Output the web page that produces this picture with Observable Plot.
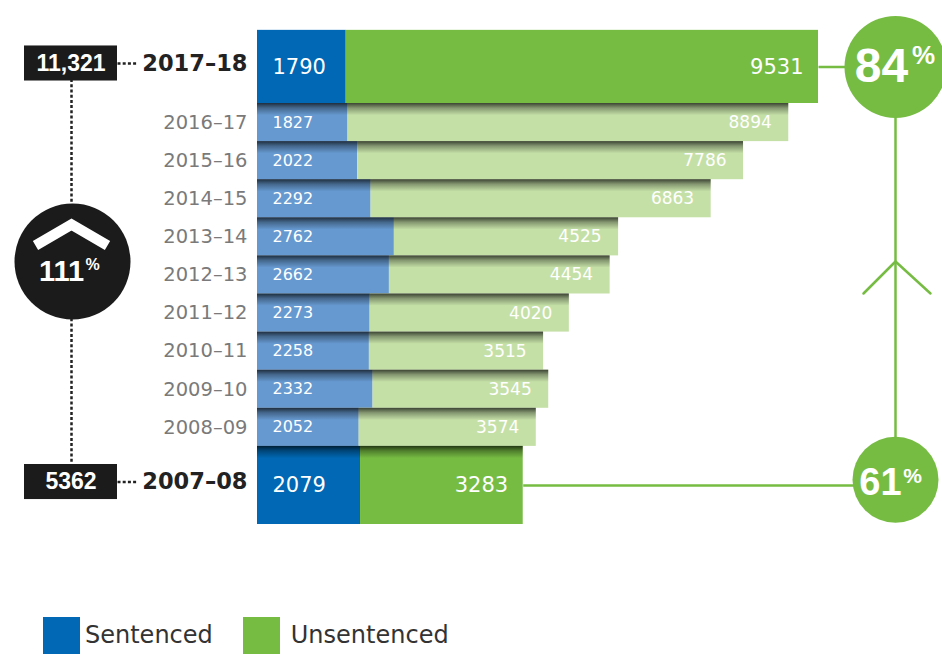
<!DOCTYPE html>
<html>
<head>
<meta charset="utf-8">
<script src="https://cdn.jsdelivr.net/npm/d3@7"></script>
<script src="https://cdn.jsdelivr.net/npm/@observablehq/plot@0.6"></script>
<style>
  body { margin: 0; background: #fff; font-family: "DejaVu Sans", sans-serif; }
  #chart svg { display: block; }
  #legend { display: flex; align-items: center; padding: 17px 0 0 43px; }
  #legend .sw { width: 37px; height: 37px; }
  #legend .lab { font-size: 24px; color: #333; margin-right: 30px; line-height: 37px; }
</style>
</head>
<body>
<div id="chart"></div>
<div id="legend"></div>
<script>
// ---- data ----
const years = ["2017–18","2016–17","2015–16","2014–15","2013–14","2012–13","2011–12","2010–11","2009–10","2008–09","2007–08"];
const sentenced = [1790, 1827, 2022, 2292, 2762, 2662, 2273, 2258, 2332, 2052, 2079];
const unsentenced = [9531, 8894, 7786, 6863, 4525, 4454, 4020, 3515, 3545, 3574, 3283];
const totalLabels = ["11,321", "5362"];
const changeLabels = ["111", "84", "61"];
const seriesNames = ["Sentenced", "Unsentenced"];

// ---- styles ----
const C = {
  blue: "#0068b4", blueLight: "#6699d0",
  green: "#76bc43", greenLight: "#c5e0a7",
  dark: "#1b1b1b", gray: "#7a7a7a", label: "#222"
};

// ---- layout helpers ----
const W = 942, H = 600;
const xPerUnit = 561 / 11321;   // px per value unit
const X0 = 257;                 // pixel of value 0
const UNIT = 38.1;              // px per row unit
const Y0 = 103;                 // pixel of row unit 0
const ax = p => (p - X0) / xPerUnit;
const ay = p => (p - Y0) / UNIT;
const TOP_H = 1.92, BOT_H = 2.05;

const lastIdx = years.length - 1;
const rows = years.map((year, i) => {
  const y1 = i === 0 ? -TOP_H : i - 1;
  const y2 = i === 0 ? 0 : i === lastIdx ? i - 1 + BOT_H : i;
  const s = sentenced[i], u = unsentenced[i];
  return { year, s, u, total: s + u, y1, y2, ym: (y1 + y2) / 2, key: i === 0 || i === lastIdx };
});
const topRow = rows[0], botRow = rows[lastIdx];
const small = rows.filter(d => !d.key);
const keys = rows.filter(d => d.key);

const defs = () => {
  const ns = "http://www.w3.org/2000/svg";
  const d = document.createElementNS(ns, "defs");
  d.innerHTML = `<linearGradient id="shade" x1="0" y1="0" x2="0" y2="1">
      <stop offset="0" stop-color="#000" stop-opacity="0.7"/>
      <stop offset="0.4" stop-color="#000" stop-opacity="0.33"/>
      <stop offset="1" stop-color="#000" stop-opacity="0"/>
    </linearGradient>`;
  return d;
};

const boldNum = { fontFamily: "Liberation Sans, Arial, sans-serif", fontWeight: "bold", fill: "white" };
const boxes = [{ label: totalLabels[0], row: topRow }, { label: totalLabels[1], row: botRow }];
const boxDy = -0.09;
const dotted = { stroke: C.label, strokeWidth: 2.5, strokeDasharray: "3,2.2" };
const circL = { x: ax(72), y: ay(261), r: 58 };
const circT = { x: ax(895), y: topRow.ym, r: 51 };
const circB = { x: ax(895), y: botRow.ym - 0.15, r: 43 };

const plot = Plot.plot({
  width: W, height: H,
  marginTop: 0, marginRight: 0, marginBottom: 0, marginLeft: 0,
  style: { fontFamily: "DejaVu Sans, sans-serif", background: "white" },
  x: { domain: [ax(0), ax(W)], range: [0, W], axis: null },
  y: { domain: [ay(0), ay(H)], range: [0, H], axis: null },
  color: { type: "identity" },
  marks: [
    defs,
    // bars
    Plot.rect(rows, { x1: 0, x2: "s", y1: "y1", y2: "y2", fill: d => d.key ? C.blue : C.blueLight }),
    Plot.rect(rows, { x1: "s", x2: "total", y1: "y1", y2: "y2", fill: d => d.key ? C.green : C.greenLight }),
    Plot.rect(rows.slice(1), { x1: 0, x2: "total", y1: "y1", y2: d => d.y1 + 0.32, fill: "url(#shade)" }),
    // bar values
    Plot.text(small, { x: 0, y: "ym", text: d => String(d.s), dx: 15, textAnchor: "start", fill: "white", fontSize: 16 }),
    Plot.text(small, { x: "total", y: "ym", text: d => String(d.u), dx: -17, textAnchor: "end", fill: "white", fontSize: 17 }),
    Plot.text(keys, { x: 0, y: "ym", text: d => String(d.s), dx: 15, textAnchor: "start", fill: "white", fontSize: 21 }),
    Plot.text(keys, { x: "total", y: "ym", text: d => String(d.u), dx: -15, textAnchor: "end", fill: "white", fontSize: 21 }),
    // year labels
    Plot.text(small, { x: 0, y: "ym", text: "year", dx: -10, textAnchor: "end", fill: C.gray, fontSize: 19.5 }),
    Plot.text(keys, { x: 0, y: d => d.ym + boxDy, text: "year", dx: -10, textAnchor: "end", fill: C.label, fontSize: 22.5, fontWeight: "bold" }),
    // left annotation: dotted connectors
    Plot.link(boxes, { x1: ax(117), x2: ax(136), y1: d => d.row.ym + boxDy, y2: d => d.row.ym + boxDy, ...dotted }),
    Plot.link([0], { x1: ax(71), x2: ax(71), y1: topRow.ym + boxDy, y2: botRow.ym + boxDy, ...dotted }),
    // total boxes
    Plot.rect(boxes, { x1: ax(24), x2: ax(117), y1: d => d.row.ym + boxDy - 0.46, y2: d => d.row.ym + boxDy + 0.46, fill: C.dark }),
    Plot.text(boxes, { x: ax(70.5), y: d => d.row.ym + boxDy, text: "label", fontSize: 23, ...boldNum }),
    // left circle
    Plot.dot([circL], { x: "x", y: "y", r: circL.r, fill: C.dark }),
    Plot.line([[ax(35), ay(245)], [ax(71), ay(224)], [ax(107), ay(245)]], { stroke: "white", strokeWidth: 10.5, strokeLinejoin: "miter", strokeLinecap: "butt", strokeMiterlimit: 10 }),
    Plot.text([0], { x: ax(61), y: ay(271), text: [changeLabels[0]], fontSize: 29, ...boldNum }),
    Plot.text([0], { x: ax(92), y: ay(264), text: ["%"], fontSize: 16, ...boldNum }),
    // right annotation lines
    Plot.link([topRow], { x1: "total", x2: circT.x, y1: "ym", y2: "ym", stroke: C.green, strokeWidth: 2.5 }),
    Plot.link([botRow], { x1: "total", x2: circB.x, y1: "ym", y2: "ym", stroke: C.green, strokeWidth: 2.5 }),
    Plot.link([0], { x1: circT.x, x2: circB.x, y1: circT.y, y2: circB.y, stroke: C.green, strokeWidth: 2.5 }),
    Plot.line([[ax(863), ay(293)], [ax(895), ay(261)], [ax(930), ay(293)]], { stroke: C.green, strokeWidth: 2.5 }),
    // right circles
    Plot.dot([circT], { x: "x", y: "y", r: circT.r, fill: C.green }),
    Plot.dot([circB], { x: "x", y: "y", r: circB.r, fill: C.green }),
    Plot.text([0], { x: ax(881), y: circT.y - 0.02, text: [changeLabels[1]], fontSize: 48, ...boldNum }),
    Plot.text([0], { x: ax(923), y: ay(55), text: ["%"], fontSize: 26, ...boldNum }),
    Plot.text([0], { x: ax(880), y: ay(482), text: [changeLabels[2]], fontSize: 38, ...boldNum }),
    Plot.text([0], { x: ax(912), y: ay(476), text: ["%"], fontSize: 21, ...boldNum })
  ]
});
document.getElementById("chart").appendChild(plot);

const legend = document.getElementById("legend");
[[seriesNames[0], C.blue, 5], [seriesNames[1], C.green, 11]].forEach(([name, col, gap]) => {
  const sw = document.createElement("span"); sw.className = "sw"; sw.style.background = col;
  sw.style.marginRight = gap + "px";
  const lab = document.createElement("span"); lab.className = "lab"; lab.textContent = name;
  legend.appendChild(sw); legend.appendChild(lab);
});
</script>
</body>
</html>
